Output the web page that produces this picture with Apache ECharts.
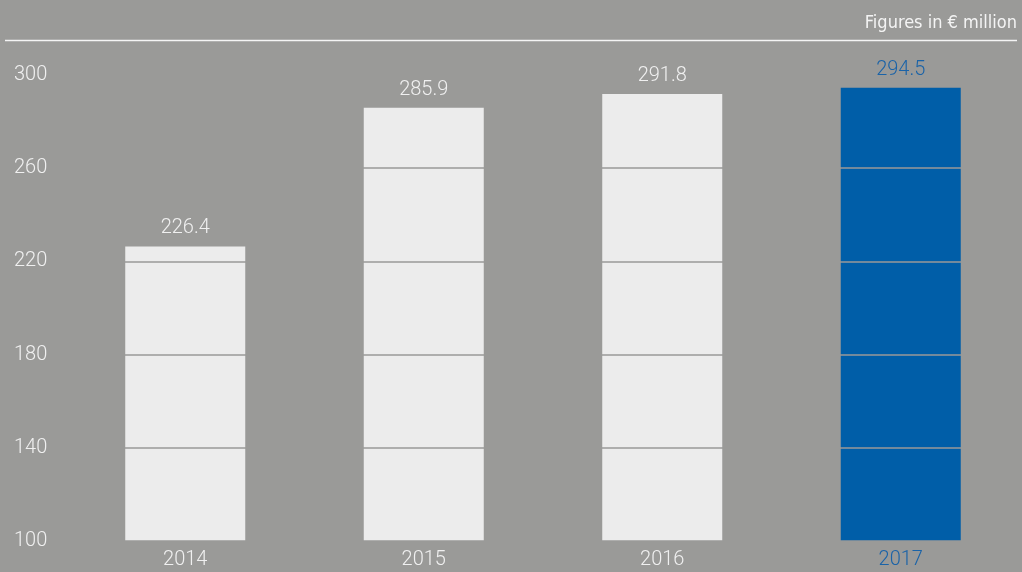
<!DOCTYPE html>
<html><head><meta charset="utf-8">
<script src="https://cdn.jsdelivr.net/npm/echarts@6/dist/echarts.min.js"></script>
<style>html,body{margin:0;padding:0;background:#9a9a98;}#c{width:1022px;height:572px;}</style>
</head><body><div id="c"></div>
<script>
const categories = ['2014', '2015', '2016', '2017'];
const values = [226.4, 285.9, 291.8, 294.5];
const yTickLabels = [100, 140, 180, 220, 260, 300];
const unitNote = 'Figures in € million';

const white = '#f0f0f0';
const blue = '#005ea8';
const labelBlue = '#1a63a8';
const grid = '#9a9a98';
const none = 'rgba(0,0,0,0)';
const chart = echarts.init(document.getElementById('c'));
chart.setOption({
  backgroundColor: '#9a9a98',
  animation: false,
  textStyle: { fontFamily: 'Roboto, "Liberation Sans", sans-serif' },
  graphic: [
    { type: 'text', right: 5, top: 14, style: { text: unitNote, fill: '#f4f4f4', font: '18px "Liberation Sans Narrow", "DejaVu Sans Condensed", sans-serif' } },
    { type: 'line', shape: { x1: 5, y1: 40.5, x2: 1017, y2: 40.5 }, style: { stroke: '#f4f4f4', lineWidth: 1.5 } }
  ],
  grid: { left: 66, right: 2, top: 75, bottom: 31, containLabel: false },
  xAxis: {
    type: 'category', data: categories,
    axisLine: { show: false }, axisTick: { show: false },
    axisLabel: {
      margin: 9, fontSize: 20, fontWeight: 300,
      color: (v, i) => i === categories.length - 1 ? labelBlue : white
    }
  },
  yAxis: {
    type: 'value', min: 100, max: 300, interval: 20, z: 5,
    axisLine: { show: false }, axisTick: { show: false },
    axisLabel: {
      align: 'left', margin: 52, fontSize: 20, fontWeight: 300, color: white, padding: [4, 0, 0, 0],
      formatter: v => yTickLabels.indexOf(v) >= 0 ? String(v) : ''
    },
    splitLine: { show: true, lineStyle: { color: [grid, none, grid, none, grid, none, grid, none, grid, none, none], width: 1.5 } }
  },
  series: [{
    type: 'bar', data: values.map((v, i) => ({
      value: v,
      itemStyle: { color: i === values.length - 1 ? blue : '#ececec' },
      label: { color: i === values.length - 1 ? labelBlue : white }
    })),
    barWidth: 120,
    label: { show: true, position: 'top', distance: 8, fontSize: 20, fontWeight: 300, formatter: p => p.value.toFixed(1) }
  }]
});
</script></body></html>
